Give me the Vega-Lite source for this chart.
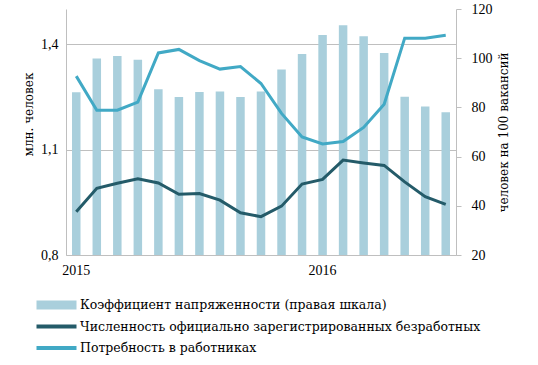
{
  "$schema": "https://vega.github.io/schema/vega-lite/v6.json",
  "width": 390,
  "height": 246,
  "autosize": {"type": "none"},
  "padding": {"left": 66, "top": 9, "right": 82, "bottom": 110},
  "config": {
    "font": "Liberation Serif",
    "view": {"stroke": null},
    "legend": {"labelFont": "DejaVu Serif"},
    "axis": {
      "labelFont": "Liberation Serif",
      "titleFont": "DejaVu Serif",
      "labelFontSize": 14,
      "titleFontSize": 12,
      "labelColor": "#000000",
      "titleColor": "#000000",
      "titleFontWeight": "normal",
      "domainColor": "#bfbfbf",
      "tickColor": "#bfbfbf",
      "gridColor": "#bfbfbf"
    }
  },
  "data": {
    "values": [
      {"m": "2015-01", "k": 86.2, "u": 0.923, "p": 1.309},
      {"m": "2015-02", "k": 99.9, "u": 0.990, "p": 1.212},
      {"m": "2015-03", "k": 100.9, "u": 1.004, "p": 1.212},
      {"m": "2015-04", "k": 99.4, "u": 1.017, "p": 1.235},
      {"m": "2015-05", "k": 87.4, "u": 1.005, "p": 1.375},
      {"m": "2015-06", "k": 84.2, "u": 0.973, "p": 1.385},
      {"m": "2015-07", "k": 86.3, "u": 0.975, "p": 1.353},
      {"m": "2015-08", "k": 86.5, "u": 0.956, "p": 1.329},
      {"m": "2015-09", "k": 84.2, "u": 0.920, "p": 1.336},
      {"m": "2015-10", "k": 86.5, "u": 0.909, "p": 1.288},
      {"m": "2015-11", "k": 95.4, "u": 0.939, "p": 1.203},
      {"m": "2015-12", "k": 101.7, "u": 1.002, "p": 1.136},
      {"m": "2016-01", "k": 109.4, "u": 1.015, "p": 1.116},
      {"m": "2016-02", "k": 113.4, "u": 1.070, "p": 1.123},
      {"m": "2016-03", "k": 108.9, "u": 1.062, "p": 1.163},
      {"m": "2016-04", "k": 102.1, "u": 1.055, "p": 1.229},
      {"m": "2016-05", "k": 84.3, "u": 1.008, "p": 1.417},
      {"m": "2016-06", "k": 80.4, "u": 0.966, "p": 1.417},
      {"m": "2016-07", "k": 78.0, "u": 0.944, "p": 1.425}
    ]
  },
  "encoding": {
    "x": {
      "field": "m",
      "type": "ordinal",
      "sort": null,
      "axis": {
        "title": null,
        "values": ["2015-01", "2016-01"],
        "labelExpr": "slice(datum.value, 0, 4)",
        "labelAngle": 0,
        "ticks": false,
        "labelPadding": 8,
        "grid": false
      }
    }
  },
  "layer": [
    {
      "mark": {"type": "bar", "width": 8.5},
      "encoding": {
        "y": {
          "field": "k",
          "type": "quantitative",
          "scale": {"domain": [20, 120], "zero": false, "nice": false},
          "axis": {
            "orient": "right",
            "values": [20, 40, 60, 80, 100, 120],
            "grid": false,
            "tickSize": 5,
            "labelPadding": 10,
            "title": "человек на 100 вакансий",
            "titleAngle": -90,
            "titlePadding": 18
          }
        },
        "y2": {"datum": 20},
        "color": {
          "datum": "Коэффициент напряженности (правая шкала)",
          "scale": {
            "domain": [
              "Коэффициент напряженности (правая шкала)",
              "Численность официально зарегистрированных безработных",
              "Потребность в работниках"
            ],
            "range": ["#a9cfdc", "#245b69", "#41a9c5"]
          },
          "legend": {
            "orient": "none",
            "legendX": -19.5,
            "legendY": 286,
            "direction": "vertical",
            "title": null,
            "padding": 0,
            "symbolSize": 400,
            "symbolStrokeWidth": 0,
            "labelFontSize": 12.5,
            "labelColor": "#000000",
            "labelOffset": 13.5,
            "labelLimit": 0,
            "rowPadding": 4.5,
            "encode": {
              "symbols": {
                "update": {
                  "shape": {"signal": "datum.value === 'Коэффициент напряженности (правая шкала)' ? 'M-2,-0.45H2V0.45H-2Z' : 'M-2,-0.2H2V0.2H-2Z'"},
                  "fill": {"scale": "color", "field": "value"},
                  "stroke": {"value": "transparent"},
                  "strokeWidth": {"value": 0},
                  "opacity": {"value": 1}
                }
              }
            }
          }
        }
      }
    },
    {
      "encoding": {
        "y": {
          "type": "quantitative",
          "scale": {"domain": [0.8, 1.5], "zero": false, "nice": false},
          "axis": {
            "orient": "left",
            "values": [0.8, 1.1, 1.4],
            "format": ".1f",
            "labelExpr": "replace(datum.label, '.', ',')",
            "grid": true,
            "ticks": false,
            "labelPadding": 8,
            "title": "млн. человек",
            "titleX": -38,
            "titleY": 105,
            "titleAlign": "center",
            "titleBaseline": "middle",
            "titleAngle": -90
          }
        }
      },
      "layer": [
        {
          "mark": {"type": "line", "strokeWidth": 3},
          "encoding": {
            "y": {"field": "u", "type": "quantitative"},
            "color": {"datum": "Численность официально зарегистрированных безработных"}
          }
        },
        {
          "mark": {"type": "line", "strokeWidth": 3},
          "encoding": {
            "y": {"field": "p", "type": "quantitative"},
            "color": {"datum": "Потребность в работниках"}
          }
        }
      ]
    }
  ],
  "resolve": {"scale": {"y": "independent"}}
}
